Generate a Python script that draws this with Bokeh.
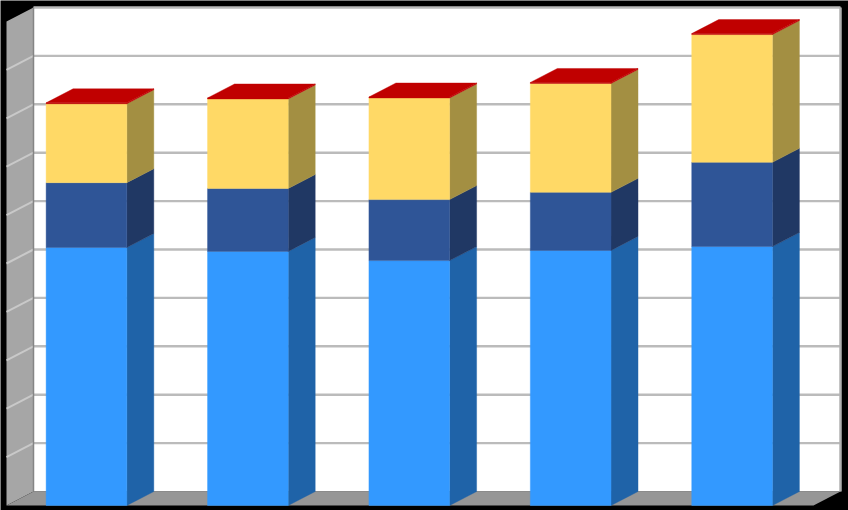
from bokeh.plotting import figure
from bokeh.models import Range1d
from bokeh.embed import file_html
from bokeh.resources import INLINE

categories = ["1", "2", "3", "4", "5"]
series_blue = [5.33, 5.25, 5.06, 5.27, 5.35]
series_navy = [1.34, 1.30, 1.26, 1.20, 1.74]
series_yellow = [1.63, 1.85, 2.10, 2.25, 2.64]
series_red = [0.02, 0.02, 0.02, 0.02, 0.02]
y_ticks = [0, 1, 2, 3, 4, 5, 6, 7, 8, 9, 10]

# px -> units
PX_X = 161.4
PX_Y = 48.4
DX = 27 / PX_X
DY = 14 / PX_Y
BAR_W = 0.5
BAR_C = 0.4955
N = len(categories)
VMAX = y_ticks[-1]

p = figure(width=848, height=510, output_backend="svg", toolbar_location=None,
           x_range=Range1d(-6 / PX_X, 842 / PX_X), y_range=Range1d(-5 / PX_Y, 505 / PX_Y),
           min_border=0, background_fill_color="#000000", border_fill_color="#000000",
           outline_line_color=None)
p.axis.visible = False
p.grid.visible = False

# walls
p.patch([DX, N + DX, N + DX, DX], [DY, DY, VMAX + DY, VMAX + DY], fill_color="#FFFFFF", line_color=None)
p.patch([0, DX, DX, 0], [0, DY, VMAX + DY, VMAX], fill_color="#A6A6A6", line_color=None)
p.patch([0, DX, N + DX, N], [0, DY, DY, 0], fill_color="#969696", line_color=None)

# gridlines on the walls
p.segment(x0=[DX] * len(y_ticks[1:]), x1=[N + DX] * len(y_ticks[1:]),
          y0=[t + DY for t in y_ticks[1:]], y1=[t + DY for t in y_ticks[1:]],
          line_color="#BBBBBB", line_width=2.4)
p.segment(x0=[0] * len(y_ticks[1:-1]), x1=[DX] * len(y_ticks[1:-1]),
          y0=[t for t in y_ticks[1:-1]], y1=[t + DY for t in y_ticks[1:-1]],
          line_color="#C9C9C9", line_width=2)
p.segment(x0=[DX], x1=[DX], y0=[DY], y1=[VMAX + DY], line_color="#858585", line_width=1.5)
p.segment(x0=[N + DX], x1=[N + DX], y0=[DY], y1=[VMAX + DY], line_color="#B0B0B0", line_width=2.5)

FILLS = [("#3399FF", "#1F63A8"), ("#2F5597", "#203864"),
         ("#FFD966", "#A38F42"), ("#C00000", "#C00000")]
SERIES = [series_blue, series_navy, series_yellow, series_red]

for i in range(N):
    base = 0.0
    left = i + BAR_C - BAR_W / 2
    right = i + BAR_C + BAR_W / 2
    for values, (front, side) in zip(SERIES, FILLS):
        top = base + values[i]
        p.patch([right, right + DX, right + DX, right],
                [base, base + DY, top + DY, top], fill_color=side, line_color=side, line_width=0.4)
        p.patch([left, right, right, left], [base, base, top, top],
                fill_color=front, line_color=front, line_width=0.4)
        base = top
    p.patch([left, right, right + DX, left + DX], [base, base, base + DY, base + DY],
            fill_color=FILLS[3][0], line_color=FILLS[3][0], line_width=0.4)

open("out.html", "w").write(file_html(p, INLINE))
